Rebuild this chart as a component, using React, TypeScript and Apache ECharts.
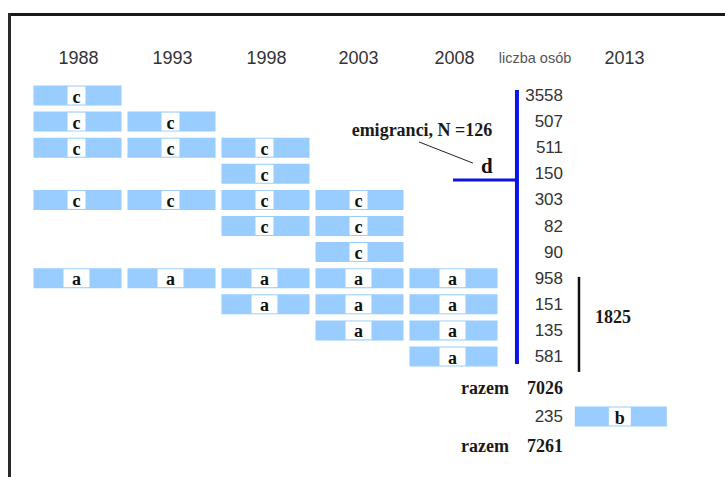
import React, { useEffect, useRef } from "react";
import * as echarts from "echarts";

// ---- data ----
const headerLabels = ["1988", "1993", "1998", "2003", "2008", "liczba osób", "2013"];
const rowLetters = ["c", "c", "c", "c", "c", "c", "c", "a", "a", "a", "a"];
const rowCounts = [3558, 507, 511, 150, 303, 82, 90, 958, 151, 135, 581];
const rowFirstYear = [0, 0, 0, 2, 0, 2, 3, 0, 2, 3, 4];
const rowLastYear = [0, 1, 2, 2, 3, 3, 3, 4, 4, 4, 4];
const totalBefore = 7026;
const count2013 = 235;
const letter2013 = "b";
const totalAll = 7261;
const groupATotal = 1825;
const emigrants = 126;
const totalLabel = "razem";

// ---- layout (axis units: x = column index, y = row index) ----
const HEADER_X = [0.01, 1.01, 2.01, 2.99, 4.01, 4.91, 5.82];
const HEADER_Y = -1.44;
const NUM_X = 5.165;
const RAZEM_X = 4.59;
const COL2013_X = 5.78;
const ROW_TOTAL1 = 11.2;
const ROW_2013 = 12.3;
const ROW_TOTAL2 = 13.43;
const BOX_W = 88;
const BOX_H = 20;
const BLUE = "#0a14e6";
const BOXC = "#99ccff";
const SANS = '"Liberation Sans", Arial, sans-serif';
const SERIF = '"Liberation Serif", "Times New Roman", serif';

function letterBox(cx: number, cy: number, w: number, letter: string) {
  const lw = letter === "a" ? 26 : letter === "b" ? 22 : 18;
  return [
    { type: "rect", shape: { x: cx - w / 2, y: cy - BOX_H / 2, width: w, height: BOX_H }, style: { fill: BOXC } },
    { type: "rect", shape: { x: cx - lw / 2 - 1, y: cy - BOX_H / 2 + 1, width: lw, height: BOX_H - 2 }, style: { fill: "#ffffff" } },
    {
      type: "text",
      style: { text: letter, x: cx - 1, y: cy + 1, align: "center", verticalAlign: "middle", font: `bold 18px ${SERIF}`, fill: "#111" },
    },
  ];
}

export default function App() {
  const ref = useRef<HTMLDivElement>(null);
  useEffect(() => {
    if (!ref.current) return;
    const chart = echarts.init(ref.current, undefined, { renderer: "svg" });

    const boxData: any[] = [];
    rowLetters.forEach((l, r) => {
      for (let c = rowFirstYear[r]; c <= rowLastYear[r]; c++) boxData.push({ value: [c, r], letter: l });
    });
    boxData.push({ value: [COL2013_X, ROW_2013], letter: letter2013, w: 92 });

    const numData: any[] = rowCounts.map((v, r) => ({ value: [NUM_X, r], text: String(v), bold: false }));
    numData.push({ value: [NUM_X, ROW_TOTAL1], text: String(totalBefore), bold: true });
    numData.push({ value: [NUM_X, ROW_2013], text: String(count2013), bold: false });
    numData.push({ value: [NUM_X, ROW_TOTAL2], text: String(totalAll), bold: true });
    numData.push({ value: [RAZEM_X, ROW_TOTAL1], text: totalLabel, bold: true });
    numData.push({ value: [RAZEM_X, ROW_TOTAL2], text: totalLabel, bold: true });

    const headerData = headerLabels.map((h, i) => ({ value: [HEADER_X[i], HEADER_Y], text: h }));

    chart.setOption({
      animation: false,
      backgroundColor: "#ffffff",
      grid: { left: 30.5, width: 658, top: 43.3, height: 417.6 },
      xAxis: { type: "value", min: -0.5, max: 6.5, show: false },
      yAxis: { type: "value", min: -2, max: 14, inverse: true, show: false },
      graphic: [
        { type: "line", shape: { x1: 9.5, y1: 14.5, x2: 725, y2: 14.5 }, style: { stroke: "#1a1a1a", lineWidth: 3 } },
        { type: "line", shape: { x1: 9.5, y1: 13, x2: 9.5, y2: 477 }, style: { stroke: "#2a2a2a", lineWidth: 3 } },
      ],
      series: [
        {
          type: "custom",
          name: "boxes",
          data: boxData,
          renderItem: (params: any, api: any) => {
            const d = boxData[params.dataIndex];
            const [cx, cy] = api.coord([api.value(0), api.value(1)]);
            return { type: "group", children: letterBox(cx, cy, d.w || BOX_W, d.letter) };
          },
        },
        {
          type: "custom",
          name: "numbers",
          data: numData,
          renderItem: (params: any, api: any) => {
            const d = numData[params.dataIndex];
            const [x, y] = api.coord([api.value(0), api.value(1)]);
            return {
              type: "text",
              style: {
                text: d.text, x, y, align: "right", verticalAlign: "middle",
                font: d.bold ? `bold 18px ${SERIF}` : `17px ${SANS}`,
                fill: d.bold ? "#1a1a1a" : "#333",
              },
            };
          },
        },
        {
          type: "custom",
          name: "headers",
          data: headerData,
          renderItem: (params: any, api: any) => {
            const d = headerData[params.dataIndex];
            const [x, y] = api.coord([api.value(0), api.value(1)]);
            const small = d.text === "liczba osób";
            return {
              type: "text",
              style: {
                text: d.text, x: small ? x - 4 : x, y, align: "center", verticalAlign: "middle",
                font: small ? `14.5px ${SANS}` : `18px ${SANS}`,
                fill: small ? "#555" : "#333",
              },
            };
          },
        },
        {
          type: "custom",
          name: "annotations",
          data: [[0, 0]],
          renderItem: (params: any, api: any) => {
            const p = (x: number, y: number) => api.coord([x, y]);
            const [bx, bTop] = p(4.675, -0.21);
            const [, bBot] = p(4.675, 10.29);
            const [hx1, hy] = p(3.995, 3.24);
            const [kx, kTop] = p(5.335, 6.95);
            const [, kBot] = p(5.335, 10.59);
            const [lx1, ly1] = p(3.633, 1.78);
            const [lx2, ly2] = p(4.207, 2.59);
            const [dx, dy] = p(4.356, 2.72);
            const [ex, ey] = p(3.665, 1.32);
            const [nx, ny] = p(5.697, 8.49);
            return {
              type: "group",
              children: [
                { type: "line", shape: { x1: bx, y1: bTop, x2: bx, y2: bBot }, style: { stroke: BLUE, lineWidth: 4 } },
                { type: "line", shape: { x1: hx1, y1: hy, x2: bx, y2: hy }, style: { stroke: BLUE, lineWidth: 3 } },
                { type: "line", shape: { x1: kx, y1: kTop, x2: kx, y2: kBot }, style: { stroke: "#111", lineWidth: 2.5 } },
                { type: "line", shape: { x1: lx1, y1: ly1, x2: lx2, y2: ly2 }, style: { stroke: "#222", lineWidth: 1 } },
                { type: "text", style: { text: "d", x: dx, y: dy, align: "center", verticalAlign: "middle", font: `bold 21px ${SERIF}`, fill: "#111" } },
                { type: "text", style: { text: `emigranci, N =${emigrants}`, x: ex, y: ey, align: "center", verticalAlign: "middle", font: `bold 18px ${SERIF}`, fill: "#1a1a1a" } },
                { type: "text", style: { text: String(groupATotal), x: nx, y: ny, align: "center", verticalAlign: "middle", font: `bold 18px ${SERIF}`, fill: "#1a1a1a" } },
              ],
            };
          },
        },
      ],
    });
    return () => chart.dispose();
  }, []);
  return <div ref={ref} style={{ position: "absolute", left: 0, top: 0, width: 725, height: 477 }} />;
}
